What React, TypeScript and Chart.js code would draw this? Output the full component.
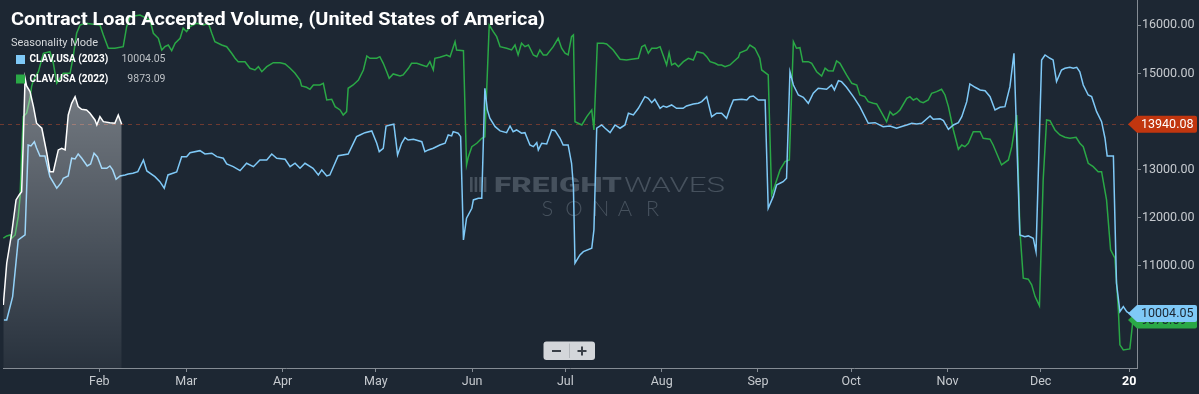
import React, { useEffect, useRef } from 'react';
import { Chart, registerables } from 'chart.js';

Chart.register(...registerables);

const TITLE = 'Contract Load Accepted Volume, (United States of America)';
const LEGEND_HEADER = 'Seasonality Mode';
const SERIES_2023 = 'CLAV.USA (2023)';
const SERIES_2022 = 'CLAV.USA (2022)';

// x = day of year (0 = Jan 1)
const days2024 = [0.1,1.2,2.8,4.2,5.2,6.0,6.5,7.1,7.6,8.7,9.8,10.8,12.5,14.1,15.1,16.2,17.8,18.9,20.0,21.0,22.1,23.2,24.2,25.3,26.9,28.0,29.6,30.2,31.2,32.3,34.4,36.0,37.1,38.2];
const vol2024 = [10185,11052,11676,12368,12472,12541,13547,14898,14738,14620,14308,13963,13859,13339,12956,12956,13408,13443,13408,14135,14378,14516,14308,14254,14239,14171,14031,13927,14100,13996,13975,13963,14135,13940.08];

const days2023 = [0.3,1.2,3.1,4.9,7.1,8.1,9.0,10.1,10.8,11.9,13.5,15.1,17.3,18.7,19.4,21.0,22.1,23.2,24.2,25.3,27.1,28.2,29.3,30.4,31.8,33.4,34.4,35.3,36.4,37.7,39.3,40.3,41.8,43.4,45.2,46.3,48.9,50.5,51.9,53.1,55.9,57.5,59.1,60.2,63.4,65.0,67.2,68.8,70.9,72.0,74.1,76.3,78.4,80.6,82.7,84.9,86.5,88.1,90.8,92.4,94.0,95.6,97.2,99.8,101.5,102.6,104.2,105.2,107.9,111.1,113.8,114.9,116.5,118.7,120.3,121.1,122.4,123.3,124.6,125.8,127.0,128.3,129.4,130.4,132.1,134.8,135.8,136.9,138.5,140.6,142.3,143.3,144.4,144.9,146.5,147.3,148.2,149.2,150.9,151.4,153.0,154.1,155.1,155.9,156.7,158.4,160.0,162.1,163.2,164.2,165.3,166.9,168.0,169.6,170.7,171.8,172.3,173.4,175.0,176.6,177.7,179.3,180.3,181.9,183.0,183.6,184.1,185.7,186.8,189.5,190.2,191.1,192.7,193.8,195.4,197.0,198.6,200.2,201.3,202.9,204.5,206.6,207.7,208.8,209.8,211.5,212.5,213.6,215.2,216.8,218.9,220.0,222.2,223.8,224.9,226.5,228.1,229.7,231.3,232.9,234.0,235.1,237.8,239.4,240.4,241.5,243.1,245.3,246.3,247.9,249.0,250.1,251.1,252.2,253.3,254.4,256.0,257.6,259.2,260.8,262.4,265.1,266.7,267.6,268.9,269.9,271.5,273.7,275.8,278.5,280.7,283.3,285.5,287.6,289.8,290.9,292.5,294.1,295.7,298.4,299.4,301.6,302.7,304.3,305.9,307.5,308.6,310.2,311.2,312.9,314.5,316.1,317.7,319.3,320.9,322.5,324.1,325.4,327.3,328.9,330.0,331.6,332.5,334.3,335.4,337.0,338.0,339.1,340.7,341.8,343.4,344.5,345.6,346.6,347.7,349.3,350.4,352.0,353.6,354.7,355.4,357.4,358.4,359.5,360.6,361.7,362.7];
const vol2023 = [9873,9873,10358,11536,11640,13511,13491,13580,13449,13283,13283,12852,12611,12721,12819,12867,13235,13220,13324,13241,13075,13116,13339,13262,13027,13027,13075,12992,12798,12867,12888,12909,12923,12956,13200,12971,12852,12748,12611,12888,12950,13268,13268,13351,13393,13324,13339,13268,13235,13116,13060,12977,13131,13060,13200,13200,13324,13235,13214,13060,13131,13027,13131,13027,12888,12992,12867,12888,13289,13324,13684,13719,13767,13803,13547,13372,13443,13906,13927,13942,13304,13547,13663,13615,13630,13580,13372,13408,13443,13511,13547,13719,13699,13788,13755,13684,11536,11988,12195,12368,12403,12403,14690,14239,14067,13892,13803,13767,13906,13788,13823,13755,13767,13511,13476,13559,13408,13547,13532,13823,13809,13651,13511,13511,13131,12645,11052,11225,11293,11364,11744,13859,13927,13859,13767,13927,13859,13927,14171,14135,14274,14516,14482,14391,14462,14274,14322,14295,14343,14274,14274,14322,14364,14378,14412,14516,14100,14171,14171,14067,14274,14447,14462,14447,14516,14530,14447,14447,12195,12437,12680,12715,12748,12819,15035,14759,14551,14503,14378,14586,14690,14669,14759,14655,14848,14828,14711,14516,14308,13963,13975,13892,13906,13859,13906,13927,13963,13948,13963,14114,14046,14058,14017,13838,13927,13975,14100,14412,14780,14711,14655,14640,14516,14239,14295,14308,14724,15418,11640,11605,11620,11572,11293,15279,15383,15314,15279,14828,15071,15106,15127,15106,15127,15035,14759,14551,14516,14204,13996,13651,13283,13283,10636,10046,10150,10046,10004.05];

const days2022 = [0.1,1.2,2.3,2.8,3.9,4.9,5.5,6.0,6.5,7.6,8.7,9.2,9.8,11.4,13.0,15.1,16.2,17.3,19.4,21.6,22.6,23.7,24.8,26.4,31.2,32.3,33.9,36.0,38.7,39.8,40.9,44.1,47.3,48.4,50.0,51.1,52.1,53.2,54.3,55.4,57.0,58.0,59.1,60.2,62.3,64.5,66.1,67.2,68.2,70.4,72.0,73.6,74.7,75.7,77.9,79.5,81.1,82.2,83.3,84.9,87.0,89.2,90.8,92.4,94.0,95.6,96.1,97.7,98.8,99.9,102.0,103.1,104.2,105.8,106.9,108.5,109.5,110.6,111.1,112.7,114.4,116.0,117.1,118.1,120.3,121.3,122.4,123.5,124.3,125.6,127.8,128.8,130.5,131.5,133.2,134.8,136.4,137.4,138.5,139.0,140.6,142.8,143.9,145.5,146.0,148.2,149.2,149.8,150.9,152.5,154.1,155.1,156.5,157.8,158.9,160.0,162.1,163.7,164.8,165.8,166.9,168.0,169.1,170.7,171.8,172.8,173.9,175.0,177.1,178.7,179.8,180.9,181.9,183.0,183.6,184.1,186.3,187.9,189.5,190.2,191.3,193.2,194.3,196.4,198.6,200.7,202.3,204.5,205.6,206.6,207.7,208.8,210.4,211.5,213.6,214.4,215.2,216.3,217.4,219.0,220.6,222.2,223.3,225.4,226.5,227.6,229.2,230.2,231.3,232.4,234.0,235.1,236.7,237.2,239.4,240.4,242.0,243.6,244.2,246.3,247.4,248.5,250.1,251.7,253.1,254.4,255.4,256.5,257.4,259.2,260.3,261.9,263.5,264.6,265.6,267.2,268.3,269.4,271.5,273.2,274.8,275.8,277.4,278.5,280.1,281.2,282.3,284.4,285.5,286.5,287.6,288.7,290.9,291.9,293.0,294.1,295.2,296.2,297.8,298.9,300.5,302.1,303.2,304.3,305.9,307.5,308.6,309.6,310.7,312.3,314.5,315.5,317.7,318.7,321.4,323.6,324.7,326.3,327.3,328.4,330.0,331.1,332.2,333.6,334.8,335.9,337.0,338.6,340.2,341.8,343.4,345.4,346.6,347.7,349.3,350.9,352.5,353.6,355.2,356.5,357.9,359.0,359.5,360.6,362.7,363.7];
const vol2022 = [11572,11620,11640,11572,11640,12021,12437,13339,14100,14171,14482,14724,14863,15035,15418,15451,15210,14794,15002,15002,15347,15834,16006,16042,16006,15798,15522,15522,15555,15971,16179,16214,16110,15834,15730,15487,15555,15590,15472,15626,15730,15938,15867,15971,16042,16006,16042,15834,15659,15590,15555,15418,15314,15243,15243,15106,15071,15139,15035,15139,15222,15222,15195,15106,15002,14863,14738,14711,14669,14759,14759,14794,14447,14462,14308,14239,14135,14204,14690,14759,14863,15071,15362,15314,15314,15347,15210,15035,14898,14988,14946,14967,15106,15210,15210,15175,15139,15243,15071,15314,15335,15383,15347,15659,15487,15472,13096,13268,13476,13547,13651,13684,16006,15867,15763,15555,15522,15487,15590,15383,15626,15555,15590,15383,15347,15487,15383,15383,15555,15730,15522,15418,15383,15763,15798,13996,13927,14100,14239,13823,15626,15626,15611,15487,15293,15279,15293,15314,15555,15590,15418,15522,15522,15555,15175,15430,15175,15210,15139,15243,15314,15279,15451,15418,15347,15243,15210,15175,15175,15139,15175,15243,15335,15430,15487,15590,15522,15314,15071,14967,12472,12680,12992,13164,13200,15659,15522,15534,15243,15243,15210,15035,14946,15106,15056,15050,15258,15210,14967,14794,14759,14551,14516,14412,14378,14364,14239,13996,14204,14135,14171,14239,14482,14516,14447,14482,14412,14391,14447,14586,14620,14669,14551,14308,13823,13422,13511,13476,13547,13788,13788,13651,13630,13511,13096,13200,13476,14135,11744,10740,10719,10601,10358,10164,12784,14031,14017,13823,13719,13672,13651,13672,13547,13476,13131,13060,12956,12956,12368,11329,11156,10081,9354,9250,9270,9873.09];

const monthTickDays = [31, 59, 90, 120, 151, 181, 212, 243, 273, 304, 334, 362.5];
const monthTickLabels = ['Feb', 'Mar', 'Apr', 'May', 'Jun', 'Jul', 'Aug', 'Sep', 'Oct', 'Nov', 'Dec', '20'];
const yTickValues = [10000, 11000, 12000, 13000, 14000, 15000, 16000];

const X_MIN = 0;
const X_MAX = 365;
const Y_MIN = 8873;
const Y_MAX = 16526;

const BG = '#1d2733';
const BLUE = '#7fc9f7';
const GREEN = '#2aa846';
const RED_TAG = '#c1360f';
const AXIS = '#858c94';
const LABEL = '#c6cacf';
const FONT = 'Roboto, "Noto Sans", sans-serif';

function toPoints(days: number[], vals: number[]) {
  const n = Math.min(days.length, vals.length);
  const out: { x: number; y: number }[] = [];
  for (let i = 0; i < n; i++) out.push({ x: days[i], y: vals[i] });
  return out;
}
const last = (a: number[]) => a[a.length - 1];

function drawTag(ctx: CanvasRenderingContext2D, y: number, bg: string, fg: string, text: string) {
  const h = 17, tip = 1128, x0 = 1137, x1 = 1197, r = 2;
  ctx.fillStyle = bg;
  ctx.beginPath();
  ctx.moveTo(tip, y);
  ctx.lineTo(x0, y - h / 2);
  ctx.lineTo(x1 - r, y - h / 2);
  ctx.quadraticCurveTo(x1, y - h / 2, x1, y - h / 2 + r);
  ctx.lineTo(x1, y + h / 2 - r);
  ctx.quadraticCurveTo(x1, y + h / 2, x1 - r, y + h / 2);
  ctx.lineTo(x0, y + h / 2);
  ctx.closePath();
  ctx.fill();
  ctx.fillStyle = fg;
  ctx.font = `12.5px ${FONT}`;
  ctx.textAlign = 'left';
  ctx.textBaseline = 'middle';
  ctx.fillText(text, 1141, y + 0.5);
}

function fitText(ctx: CanvasRenderingContext2D, text: string, font: string, x: number, y: number, width: number) {
  ctx.font = font;
  const w = ctx.measureText(text).width || 1;
  ctx.save();
  ctx.translate(x, y);
  ctx.scale(width / w, 1);
  ctx.fillText(text, 0, 0);
  ctx.restore();
}

const overlayPlugin = {
  id: 'overlay',
  beforeDraw(chart: any) {
    const { ctx, width, height } = chart;
    ctx.save();
    ctx.fillStyle = BG;
    ctx.fillRect(0, 0, width, height);
    ctx.restore();
  },
  beforeDatasetsDraw(chart: any) {
    const { ctx, chartArea, scales } = chart;
    ctx.save();
    // watermark
    ctx.fillStyle = '#46515d';
    for (let i = 0; i < 4; i++) ctx.fillRect(470 + i * 4.6, 177, 2.6, 15);
    ctx.textBaseline = 'alphabetic';
    ctx.textAlign = 'left';
    fitText(ctx, 'FREIGHT', `900 20px ${FONT}`, 494, 192, 128);
    fitText(ctx, 'WAVES', `300 20px ${FONT}`, 624, 192, 101);
    ctx.font = `300 22px Lato, ${FONT}`;
    ctx.textAlign = 'center';
    const sonar = 'SONAR';
    const cx = [547.5, 574, 601, 625, 652.5];
    for (let i = 0; i < sonar.length; i++) ctx.fillText(sonar[i], cx[i], 216);
    // dashed current-value line
    const yR = Math.round(scales.y.getPixelForValue(last(vol2024))) + 0.5;
    ctx.strokeStyle = '#6e3a31';
    ctx.lineWidth = 1;
    ctx.setLineDash([4, 4]);
    ctx.beginPath();
    ctx.moveTo(0, yR);
    ctx.lineTo(chartArea.right - 8, yR);
    ctx.stroke();
    ctx.restore();
  },
  afterDraw(chart: any) {
    const { ctx, scales } = chart;
    ctx.save();
    // title
    ctx.fillStyle = '#ffffff';
    ctx.textAlign = 'left';
    ctx.textBaseline = 'alphabetic';
    fitText(ctx, TITLE, `bold 18px ${FONT}`, 11, 24.5, 534);
    // legend
    ctx.textBaseline = 'middle';
    ctx.font = `11px ${FONT}`;
    ctx.fillStyle = '#d4d7da';
    ctx.fillText(LEGEND_HEADER, 11, 43);
    const rows = [
      { y: 59.5, color: BLUE, name: SERIES_2023, value: last(vol2023) },
      { y: 79, color: GREEN, name: SERIES_2022, value: last(vol2022) },
    ];
    for (const r of rows) {
      ctx.fillStyle = r.color;
      ctx.fillRect(16, r.y - 4.5, 9, 9);
      ctx.fillStyle = '#ffffff';
      ctx.font = `bold 10px ${FONT}`;
      ctx.textAlign = 'left';
      ctx.fillText(r.name, 29.5, r.y);
      ctx.fillStyle = '#bcc0c5';
      ctx.font = `10.5px ${FONT}`;
      ctx.textAlign = 'right';
      ctx.fillText(r.value.toFixed(2), 165.5, r.y);
    }
    // price tags
    const ys = scales.y;
    drawTag(ctx, ys.getPixelForValue(last(vol2022)), GREEN, '#1b2530', last(vol2022).toFixed(2));
    drawTag(ctx, ys.getPixelForValue(last(vol2024)), RED_TAG, '#ffffff', last(vol2024).toFixed(2));
    drawTag(ctx, ys.getPixelForValue(last(vol2023)), BLUE, '#1b2530', last(vol2023).toFixed(2));
    // zoom buttons
    const bx = 543.5, by = 341.5, bw = 51.5, bh = 18.5, rr = 3;
    ctx.fillStyle = '#d3d6da';
    ctx.beginPath();
    ctx.moveTo(bx + rr, by);
    ctx.lineTo(bx + bw - rr, by);
    ctx.quadraticCurveTo(bx + bw, by, bx + bw, by + rr);
    ctx.lineTo(bx + bw, by + bh - rr);
    ctx.quadraticCurveTo(bx + bw, by + bh, bx + bw - rr, by + bh);
    ctx.lineTo(bx + rr, by + bh);
    ctx.quadraticCurveTo(bx, by + bh, bx, by + bh - rr);
    ctx.lineTo(bx, by + rr);
    ctx.quadraticCurveTo(bx, by, bx + rr, by);
    ctx.closePath();
    ctx.fill();
    ctx.fillStyle = '#b3b7bc';
    ctx.fillRect(569, by + 2, 1, bh - 4);
    ctx.fillStyle = '#3a4048';
    ctx.fillRect(552, 350, 9, 2);
    ctx.fillRect(577.5, 350, 9, 2);
    ctx.fillRect(581, 346.5, 2, 9);
    ctx.restore();
  },
};

export default function App() {
  const ref = useRef<HTMLCanvasElement>(null);
  useEffect(() => {
    document.body.style.margin = '0';
    document.body.style.background = BG;
    const canvas = ref.current;
    if (!canvas) return;
    const chart = new Chart(canvas, {
      type: 'line',
      data: {
        datasets: [
          {
            label: '2024',
            data: toPoints(days2024, vol2024),
            borderColor: '#ffffff',
            borderWidth: 1.5,
            pointRadius: 0,
            tension: 0,
            order: 0,
            fill: 'start',
            backgroundColor: (c: any) => {
              const area = c.chart.chartArea;
              if (!area) return 'rgba(255,255,255,0.2)';
              const g = c.chart.ctx.createLinearGradient(0, area.top + 75, 0, area.bottom);
              g.addColorStop(0, 'rgba(255,255,255,0.40)');
              g.addColorStop(1, 'rgba(255,255,255,0.05)');
              return g;
            },
          },
          {
            label: SERIES_2023,
            data: toPoints(days2023, vol2023),
            borderColor: BLUE,
            borderWidth: 1.5,
            pointRadius: 0,
            tension: 0,
            order: 1,
            fill: false,
          },
          {
            label: SERIES_2022,
            data: toPoints(days2022, vol2022),
            borderColor: GREEN,
            borderWidth: 1.5,
            pointRadius: 0,
            tension: 0,
            order: 2,
            fill: false,
          },
        ],
      },
      options: {
        animation: false,
        responsive: false,
        maintainAspectRatio: false,
        layout: { padding: { left: 3, top: 0, right: 0, bottom: 0 } },
        plugins: { legend: { display: false }, tooltip: { enabled: false }, title: { display: false } },
        scales: {
          x: {
            type: 'linear',
            min: X_MIN,
            max: X_MAX,
            position: 'bottom',
            afterBuildTicks: (s: any) => {
              s.ticks = monthTickDays.map((v) => ({ value: v }));
            },
            afterFit: (s: any) => {
              s.height = 26;
              s.paddingLeft = 0;
              s.paddingRight = 0;
            },
            ticks: {
              autoSkip: false,
              maxRotation: 0,
              padding: 2,
              callback: (_v: any, i: number) => monthTickLabels[i],
              color: (c: any) => (c.tick && c.tick.label === '20' ? '#ffffff' : LABEL),
              font: (c: any) => ({
                family: FONT,
                size: 12.5,
                weight: c.tick && c.tick.label === '20' ? 'bold' : 'normal',
              }),
            },
            grid: { drawOnChartArea: false, drawTicks: true, tickLength: 4, color: AXIS },
            border: { display: true, color: AXIS, width: 1 },
          },
          y: {
            type: 'linear',
            position: 'right',
            min: Y_MIN,
            max: Y_MAX,
            afterBuildTicks: (s: any) => {
              s.ticks = yTickValues.map((v) => ({ value: v }));
            },
            afterFit: (s: any) => {
              s.width = 62;
              s.paddingTop = 0;
              s.paddingBottom = 0;
            },
            ticks: {
              autoSkip: false,
              padding: 1,
              color: LABEL,
              font: { family: FONT, size: 12.5 },
              callback: (v: any) => Number(v).toFixed(2),
            },
            grid: { drawOnChartArea: false, drawTicks: true, tickLength: 4, color: AXIS },
            border: { display: true, color: AXIS, width: 1 },
          },
        },
      },
      plugins: [overlayPlugin],
    } as any);
    return () => chart.destroy();
  }, []);
  return (
    <div style={{ width: 1199, height: 394, background: BG }}>
      <canvas ref={ref} width={1199} height={394} style={{ display: 'block', width: 1199, height: 394 }} />
    </div>
  );
}
